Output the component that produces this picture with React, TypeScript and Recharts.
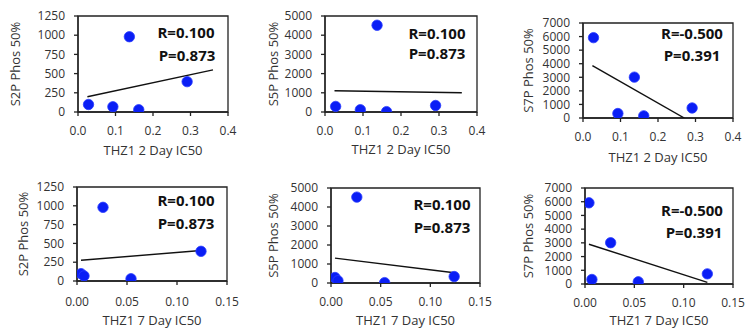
import React from 'react';
import { ScatterChart, Scatter, XAxis, YAxis, ReferenceArea, Label } from 'recharts';

// ---- data ----
const ic50TwoDay = [0.028, 0.093, 0.137, 0.162, 0.291];
const ic50SevenDay = [0.004, 0.007, 0.026, 0.054, 0.124];
const s2pPhos = [98, 68, 980, 30, 395];
const s5pPhos = [290, 120, 4520, 20, 340];
const s7pPhos = [5920, 330, 3010, 160, 740];

const trendX2Day = [0.025, 0.36];
const trendX2DayS7P = [0.025, 0.27];
const trendX7Day = [0.004, 0.124];
const trendS2P2Day = [198, 548];
const trendS5P2Day = [1110, 1000];
const trendS7P2Day = [3860, 0];
const trendS2P7Day = [276, 405];
const trendS5P7Day = [1310, 540];
const trendS7P7Day = [2900, 120];

const ticks2Day = [0, 0.1, 0.2, 0.3, 0.4];
const ticks7Day = [0, 0.05, 0.1, 0.15];
const ticksS2P = [0, 250, 500, 750, 1000, 1250];
const ticksS5P = [0, 1000, 2000, 3000, 4000, 5000];
const ticksS7P = [0, 1000, 2000, 3000, 4000, 5000, 6000, 7000];

const rLabels = ['R=0.100', 'R=0.100', 'R=-0.500', 'R=0.100', 'R=0.100', 'R=-0.500'];
const pLabels = ['P=0.873', 'P=0.873', 'P=0.391', 'P=0.873', 'P=0.873', 'P=0.391'];
const yTitles = ['S2P Phos 50%', 'S5P Phos 50%', 'S7P Phos 50%', 'S2P Phos 50%', 'S5P Phos 50%', 'S7P Phos 50%'];
const xTitles = ['THZ1 2 Day IC50', 'THZ1 2 Day IC50', 'THZ1 2 Day IC50', 'THZ1 7 Day IC50', 'THZ1 7 Day IC50', 'THZ1 7 Day IC50'];

const zip = (xs: number[], ys: number[]) => xs.map((x, i) => ({ x, y: ys[i] }));

const FONT = '"Open Sans", "Liberation Sans", sans-serif';
const AXIS = '#222';
const TEXT = '#333';

type Cfg = {
  cx: number; cy: number; cw: number; ch: number;
  l: number; r: number; t: number; b: number;
  xMax: number; xTicks: number[]; xDec: number;
  yMax: number; yTicks: number[];
  pts: { x: number; y: number }[];
  trend: { x: number; y: number }[];
  yLabelX: number; xTitleY: number; xTickMargin: number;
  rPos: [number, number]; pPos: [number, number];
  idx: number;
};

const panels: Cfg[] = [
  { cx: 0, cy: 0, cw: 245, ch: 165, l: 78, r: 228, t: 16, b: 112, xMax: 0.4, xTicks: ticks2Day, xDec: 1, yMax: 1250, yTicks: ticksS2P,
    pts: zip(ic50TwoDay, s2pPhos), trend: zip(trendX2Day, trendS2P2Day), yLabelX: 15, xTitleY: 150, xTickMargin: 10, rPos: [186, 32], pPos: [187, 55], idx: 0 },
  { cx: 245, cy: 0, cw: 250, ch: 165, l: 325, r: 477, t: 16, b: 112, xMax: 0.4, xTicks: ticks2Day, xDec: 1, yMax: 5000, yTicks: ticksS5P,
    pts: zip(ic50TwoDay, s5pPhos), trend: zip(trendX2Day, trendS5P2Day), yLabelX: 273, xTitleY: 149, xTickMargin: 10, rPos: [437, 33], pPos: [437, 53], idx: 1 },
  { cx: 495, cy: 0, cw: 250, ch: 165, l: 583, r: 733, t: 23, b: 118, xMax: 0.4, xTicks: ticks2Day, xDec: 1, yMax: 7000, yTicks: ticksS7P,
    pts: zip(ic50TwoDay, s7pPhos), trend: zip(trendX2DayS7P, trendS7P2Day), yLabelX: 528, xTitleY: 157, xTickMargin: 10, rPos: [692, 33], pPos: [692, 55], idx: 2 },
  { cx: 0, cy: 165, cw: 245, ch: 166, l: 77, r: 227, t: 187, b: 281, xMax: 0.15, xTicks: ticks7Day, xDec: 2, yMax: 1250, yTicks: ticksS2P,
    pts: zip(ic50SevenDay, s2pPhos), trend: zip(trendX7Day, trendS2P7Day), yLabelX: 23, xTitleY: 320, xTickMargin: 12, rPos: [186, 200], pPos: [186, 223], idx: 3 },
  { cx: 245, cy: 165, cw: 250, ch: 166, l: 331, r: 480, t: 188, b: 283, xMax: 0.15, xTicks: ticks7Day, xDec: 2, yMax: 5000, yTicks: ticksS5P,
    pts: zip(ic50SevenDay, s5pPhos), trend: zip(trendX7Day, trendS5P7Day), yLabelX: 273, xTitleY: 320, xTickMargin: 10, rPos: [442, 204], pPos: [442, 227], idx: 4 },
  { cx: 495, cy: 165, cw: 250, ch: 166, l: 585, r: 733, t: 188, b: 284, xMax: 0.15, xTicks: ticks7Day, xDec: 2, yMax: 7000, yTicks: ticksS7P,
    pts: zip(ic50SevenDay, s7pPhos), trend: zip(trendX7Day, trendS7P7Day), yLabelX: 528, xTitleY: 320, xTickMargin: 10, rPos: [692, 210], pPos: [694, 232], idx: 5 },
];

const Dot = (props: any) => {
  const { cx, cy } = props;
  if (cx == null || cy == null) return <g />;
  return <circle cx={cx} cy={cy} r={5.2} fill="#0a1ef5" stroke="#2a3cff" strokeWidth={0.8} />;
};

const NoShape = () => <g />;

function Panel({ c }: { c: Cfg }) {
  const yAxisW = c.l - c.cx;
  const xAxisH = c.cy + c.ch - c.b;
  const midX = (c.l + c.r) / 2 - c.cx;
  const midY = (c.t + c.b) / 2 - c.cy;
  const xTitleY = c.xTitleY - c.cy;
  const yLabX = c.yLabelX - c.cx;
  return (
    <div style={{ position: 'absolute', left: c.cx, top: c.cy, width: c.cw, height: c.ch }}>
      <ScatterChart
        width={c.cw}
        height={c.ch}
        margin={{ top: c.t - c.cy, right: c.cx + c.cw - c.r, bottom: 0, left: 0 }}
      >
        <XAxis
          type="number"
          dataKey="x"
          domain={[0, c.xMax]}
          ticks={c.xTicks}
          interval={0}
          allowDataOverflow
          height={xAxisH}
          tickSize={4}
          tickMargin={c.xTickMargin}
          tickFormatter={(v: number) => v.toFixed(c.xDec)}
          tick={{ fill: TEXT, fontSize: 12, fontFamily: FONT }}
          axisLine={{ stroke: AXIS, strokeWidth: 1.3 }}
          tickLine={{ stroke: AXIS, strokeWidth: 1.3 }}
        >
          <Label
            content={() => (
              <text x={midX} y={xTitleY} textAnchor="middle" dominantBaseline="central"
                fontSize={13} fontFamily={FONT} fill={TEXT}>
                {xTitles[c.idx]}
              </text>
            )}
          />
        </XAxis>
        <YAxis
          type="number"
          dataKey="y"
          domain={[0, c.yMax]}
          ticks={c.yTicks}
          interval={0}
          allowDataOverflow
          width={yAxisW}
          tickSize={4}
          tickMargin={9}
          tick={{ fill: TEXT, fontSize: 12, fontFamily: FONT }}
          axisLine={{ stroke: AXIS, strokeWidth: 1.3 }}
          tickLine={{ stroke: AXIS, strokeWidth: 1.3 }}
        >
          <Label
            content={() => (
              <text x={yLabX} y={midY} textAnchor="middle" dominantBaseline="central"
                fontSize={13} fontFamily={FONT} fill={TEXT}
                transform={`rotate(-90 ${yLabX} ${midY})`}>
                {yTitles[c.idx]}
              </text>
            )}
          />
        </YAxis>
        <ReferenceArea x1={0} x2={c.xMax} y1={0} y2={c.yMax} fill="none" fillOpacity={0}
          stroke={AXIS} strokeWidth={1.3} ifOverflow="visible" />
        <Scatter data={c.trend} line={{ stroke: '#111', strokeWidth: 1.4 }} shape={NoShape}
          isAnimationActive={false} />
        <Scatter data={c.pts} shape={Dot} isAnimationActive={false} />
      </ScatterChart>
      <div style={annStyle(c.rPos[0] - c.cx, c.rPos[1] - c.cy)}>{rLabels[c.idx]}</div>
      <div style={annStyle(c.pPos[0] - c.cx, c.pPos[1] - c.cy)}>{pLabels[c.idx]}</div>
    </div>
  );
}

function annStyle(x: number, y: number): React.CSSProperties {
  return {
    position: 'absolute', left: x, top: y, transform: 'translate(-50%, -50%)',
    fontFamily: FONT, fontWeight: 700, fontSize: 15, color: '#111', whiteSpace: 'nowrap',
    lineHeight: '18px', pointerEvents: 'none',
  };
}

export default function App() {
  return (
    <div style={{ position: 'absolute', left: 0, top: 0, width: 745, height: 331, background: '#fff', overflow: 'hidden' }}>
      {panels.map((c, i) => <Panel key={i} c={c} />)}
    </div>
  );
}
